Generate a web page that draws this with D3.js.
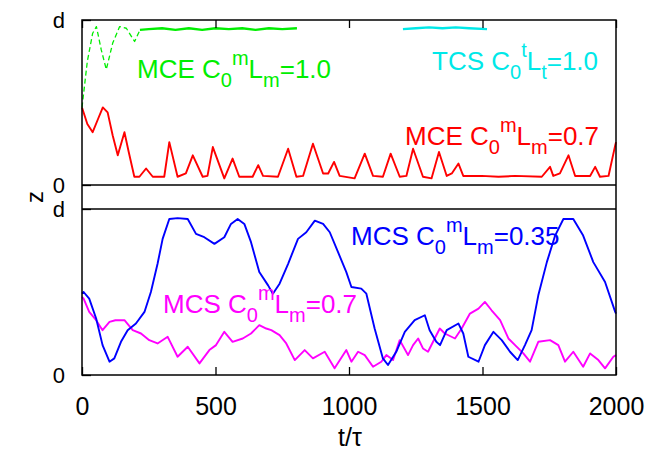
<!DOCTYPE html>
<html>
<head>
<meta charset="utf-8">
<script src="https://cdn.jsdelivr.net/npm/d3@7"></script>
<style>
  body { margin: 0; background: #fff; }
  text { font-family: "Liberation Sans", Arial, sans-serif; }
</style>
</head>
<body>
<div id="chart"></div>
<script>
// values, z in units of d
var xTicks = [0, 500, 1000, 1500, 2000];

var greenRiseT = [0, 20, 40, 54, 72, 91, 115, 141, 166, 197, 217];
var greenRiseZ = [0.47, 0.75, 0.92, 0.96, 0.82, 0.70, 0.86, 0.96, 0.95, 0.87, 0.94];
var greenFlatT = [217, 250, 300, 350, 400, 450, 500, 550, 600, 650, 700, 750, 805];
var greenFlatZ = [0.94, 0.945, 0.95, 0.94, 0.95, 0.94, 0.95, 0.945, 0.95, 0.94, 0.95, 0.945, 0.95];

var cyanT = [1202, 1250, 1300, 1350, 1400, 1450, 1517];
var cyanZ = [0.945, 0.95, 0.955, 0.95, 0.955, 0.95, 0.945];

var redT = [0, 3, 20, 40, 60, 78, 96, 115, 134, 159, 175, 196, 215, 240, 265, 308, 327, 358, 389, 415,
  452, 470, 490, 533, 564, 589, 639, 660, 678, 734, 772, 803, 828, 865, 903, 922, 944, 965, 1021, 1059,
  1090, 1127, 1156, 1190, 1215, 1240, 1277, 1309, 1337, 1366, 1385, 1410, 1428, 1497, 1560, 1622, 1722, 1753, 1765, 1790,
  1822, 1847, 1903, 1922, 1940, 1972, 1997, 2000];
var redZ = [0.47, 0.455, 0.37, 0.32, 0.40, 0.47, 0.44, 0.30, 0.18, 0.32, 0.20, 0.05, 0.05, 0.10, 0.05, 0.05, 0.26, 0.05, 0.07, 0.18,
  0.05, 0.055, 0.23, 0.04, 0.16, 0.05, 0.05, 0.12, 0.055, 0.05, 0.22, 0.05, 0.055, 0.25, 0.07, 0.07, 0.14, 0.055, 0.04, 0.19,
  0.055, 0.05, 0.19, 0.05, 0.055, 0.22, 0.05, 0.04, 0.20, 0.055, 0.07, 0.13, 0.055, 0.055, 0.05, 0.055, 0.05, 0.11, 0.055, 0.07,
  0.18, 0.055, 0.055, 0.11, 0.05, 0.055, 0.24, 0.26];

var blueT = [0, 6, 27, 53, 77, 103, 121, 146, 171, 202, 234, 258, 283, 302, 327, 358, 396, 427, 458, 496,
  533, 558, 583, 608, 633, 664, 697, 715, 740, 772, 809, 840, 872, 903, 928, 959, 990, 1009, 1046, 1065,
  1096, 1127, 1146, 1177, 1209, 1246, 1284, 1302, 1327, 1341, 1366, 1410, 1428, 1447, 1485, 1509, 1541, 1572, 1603, 1632,
  1659, 1684, 1709, 1741, 1772, 1803, 1840, 1877, 1915, 1959, 1997, 2000];
var blueZ = [0.49, 0.50, 0.46, 0.34, 0.18, 0.08, 0.10, 0.20, 0.27, 0.31, 0.38, 0.50, 0.67, 0.82, 0.94, 0.945, 0.94, 0.85, 0.83, 0.79,
  0.83, 0.91, 0.94, 0.91, 0.80, 0.62, 0.54, 0.49, 0.55, 0.67, 0.82, 0.86, 0.93, 0.91, 0.86, 0.74, 0.62, 0.53, 0.52, 0.49,
  0.28, 0.10, 0.06, 0.14, 0.26, 0.33, 0.36, 0.27, 0.20, 0.18, 0.27, 0.31, 0.25, 0.11, 0.08, 0.18, 0.26, 0.21, 0.14, 0.09,
  0.18, 0.27, 0.48, 0.68, 0.84, 0.94, 0.94, 0.84, 0.68, 0.56, 0.38, 0.37];

var magentaT = [0, 6, 27, 53, 77, 103, 125, 159, 190, 221, 252, 283, 321, 358, 396, 440, 477, 502, 533, 564,
  602, 633, 664, 690, 709, 740, 765, 797, 834, 865, 909, 946, 990, 1009, 1034, 1059, 1090, 1121, 1140, 1165,
  1190, 1221, 1240, 1259, 1277, 1296, 1321, 1340, 1359, 1397, 1422, 1453, 1485, 1509, 1534, 1566, 1597, 1622, 1653, 1678,
  1709, 1753, 1784, 1809, 1840, 1877, 1903, 1934, 1959, 1990, 2000];
var magentaZ = [0.47, 0.46, 0.38, 0.33, 0.27, 0.32, 0.33, 0.33, 0.27, 0.25, 0.21, 0.19, 0.23, 0.11, 0.17, 0.07, 0.15, 0.18, 0.26, 0.20,
  0.22, 0.25, 0.30, 0.28, 0.27, 0.24, 0.19, 0.09, 0.15, 0.10, 0.14, 0.04, 0.15, 0.08, 0.14, 0.12, 0.05, 0.08, 0.12, 0.09,
  0.21, 0.12, 0.18, 0.22, 0.16, 0.14, 0.22, 0.28, 0.25, 0.22, 0.28, 0.37, 0.40, 0.44, 0.39, 0.33, 0.22, 0.18, 0.13, 0.08,
  0.20, 0.21, 0.18, 0.08, 0.14, 0.05, 0.13, 0.09, 0.04, 0.11, 0.12];

(function() {
var width = 662, height = 455;
var mLeft = 82, mRight = 616, mTop = 20, mBottom = 375;

var svg = d3.select('#chart').append('svg')
  .attr('width', width)
  .attr('height', height);

var x = d3.scaleLinear().domain([0, 2000]).range([mLeft, mRight]);
var yTop = d3.scaleLinear().domain([0, 1]).range([185, mTop]);
var yBot = d3.scaleLinear().domain([0, 1]).range([mBottom, 209]);

function zip(ts, zs) {
  return ts.map(function(t, i) { return { t: t, z: zs[i] }; });
}

function drawLine(y, ts, zs, color, dash, w) {
  var line = d3.line()
    .x(function(d) { return x(d.t); })
    .y(function(d) { return y(d.z); });
  svg.append('path')
    .datum(zip(ts, zs))
    .attr('d', line)
    .attr('fill', 'none')
    .attr('stroke', color)
    .attr('stroke-width', w || 1.9)
    .attr('stroke-linejoin', 'round')
    .attr('stroke-dasharray', dash || null);
}

// top panel
drawLine(yTop, redT, redZ, '#ff0000');
drawLine(yTop, greenRiseT, greenRiseZ, '#00ee00', '5,3', 1.3);
drawLine(yTop, greenFlatT, greenFlatZ, '#00ee00', null, 2.4);
drawLine(yTop, cyanT, cyanZ, '#00e8e8', null, 2.4);

// bottom panel
drawLine(yBot, magentaT, magentaZ, '#ff00ff');
drawLine(yBot, blueT, blueZ, '#0000ff');

// frame
var frame = svg.append('g').attr('stroke', '#000').attr('stroke-width', 1.5).attr('fill', 'none');
frame.append('rect').attr('x', mLeft).attr('y', mTop).attr('width', mRight - mLeft).attr('height', mBottom - mTop);
frame.append('line').attr('x1', mLeft).attr('x2', mRight).attr('y1', yTop(0)).attr('y2', yTop(0));
frame.append('line').attr('x1', mLeft).attr('x2', mRight).attr('y1', yBot(1)).attr('y2', yBot(1));

// axes
var xBottom = svg.append('g')
  .attr('transform', 'translate(0,' + mBottom + ')')
  .call(d3.axisBottom(x).tickValues(xTicks).tickSize(-8).tickPadding(22).tickFormat(d3.format('d')));
var xTop = svg.append('g')
  .attr('transform', 'translate(0,' + mTop + ')')
  .call(d3.axisTop(x).tickValues(xTicks).tickSize(-8).tickFormat(''));
var yAxTop = svg.append('g')
  .attr('transform', 'translate(' + mLeft + ',0)')
  .call(d3.axisLeft(yTop).tickValues([0, 1]).tickSize(-9).tickPadding(17)
    .tickFormat(function(d) { return d ? 'd' : '0'; }));
var yAxBot = svg.append('g')
  .attr('transform', 'translate(' + mLeft + ',0)')
  .call(d3.axisLeft(yBot).tickValues([0, 1]).tickSize(-9).tickPadding(17)
    .tickFormat(function(d) { return d ? 'd' : '0'; }));

[xBottom, xTop].forEach(function(g) {
  g.select('.domain').remove();
  g.selectAll('.tick line').attr('stroke', '#000').attr('stroke-width', 1.3);
  g.selectAll('.tick text')
    .attr('fill', '#000')
    .style('font-family', '"Liberation Sans", Arial, sans-serif')
    .style('font-size', '25px');
});
[yAxTop, yAxBot].forEach(function(g) {
  g.select('.domain').remove();
  g.selectAll('.tick line').attr('stroke', '#000').attr('stroke-width', 1.3);
  g.selectAll('.tick text')
    .attr('fill', '#000')
    .style('font-family', '"Liberation Sans", Arial, sans-serif')
    .style('font-size', '22px');
});

svg.append('text')
  .attr('x', 350).attr('y', 446)
  .attr('text-anchor', 'middle')
  .style('font-size', '25px')
  .text('t/τ');

svg.append('text')
  .attr('transform', 'translate(43,197) rotate(-90)')
  .attr('text-anchor', 'middle')
  .style('font-size', '24px')
  .text('z');

// curve labels, gnuplot style sub/superscripts
function addLabel(x0, y0, color, parts) {
  var t = svg.append('text')
    .attr('x', x0).attr('y', y0)
    .attr('fill', color)
    .style('font-size', '26px');
  var shift = 0;
  parts.forEach(function(p) {
    var target = p[1] === 1 ? 9 : (p[1] === -1 ? -13 : 0);
    t.append('tspan')
      .attr('dy', target - shift)
      .style('font-size', p[1] ? '20px' : '26px')
      .text(p[0]);
    shift = target;
  });
}

addLabel(137, 78, '#00ee00', [['MCE C', 0], ['0', 1], ['m', -1], ['L', 0], ['m', 1], ['=1.0', 0]]);
addLabel(432, 70, '#00e8e8', [['TCS C', 0], ['0', 1], ['t', -1], ['L', 0], ['t', 1], ['=1.0', 0]]);
addLabel(405, 145, '#ff0000', [['MCE C', 0], ['0', 1], ['m', -1], ['L', 0], ['m', 1], ['=0.7', 0]]);
addLabel(351, 245, '#0000ff', [['MCS C', 0], ['0', 1], ['m', -1], ['L', 0], ['m', 1], ['=0.35', 0]]);
addLabel(163, 313, '#ff00ff', [['MCS C', 0], ['0', 1], ['m', -1], ['L', 0], ['m', 1], ['=0.7', 0]]);
})();
</script>
</body>
</html>
